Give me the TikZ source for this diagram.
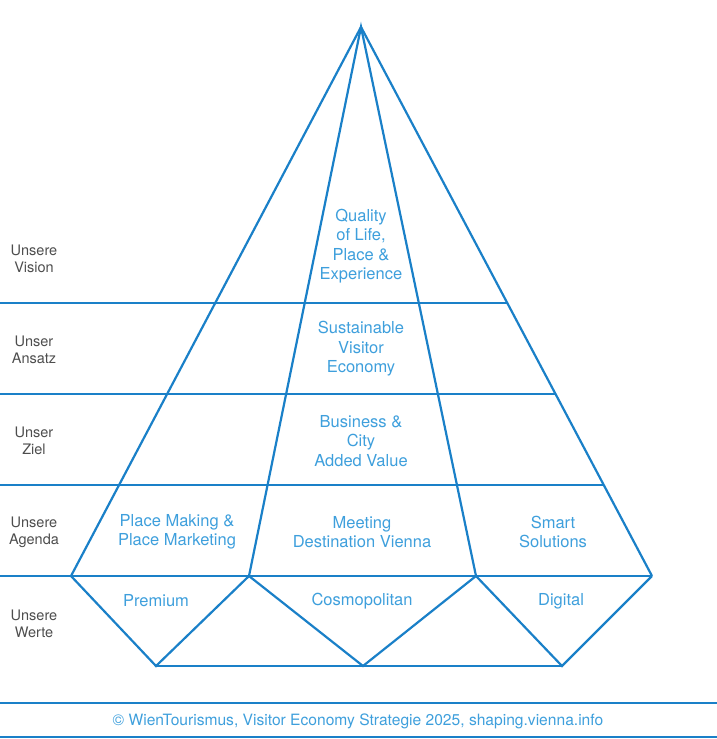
\documentclass[tikz,border=0pt]{standalone}
\usepackage{fontspec}
\setmainfont{TeX Gyre Heros}
\usetikzlibrary{calc}
\definecolor{wtblue}{HTML}{1A80C8}
\definecolor{wttext}{HTML}{3E9FDC}
\definecolor{wtgray}{HTML}{4D4D4D}
\newcommand{\fieldfont}{\fontsize{16.5}{19.5}\selectfont}
\newcommand{\rowfont}{\fontsize{14.5}{17}\selectfont}
\tikzstyle{edge}=[draw=wtblue, line width=2.2pt, line join=miter]
\tikzstyle{band}=[draw=wtblue, line width=1.6pt]
\tikzstyle{field}=[align=center, text=wttext, font=\fieldfont, inner sep=0]
\tikzstyle{rowlabel}=[align=center, text=wtgray, font=\rowfont, inner sep=0]
\tikzstyle{pyramid}=[x=1pt, y=-1pt,
                     % keep the page at the size of the reference
                     execute at begin picture={\useasboundingbox (0,0) rectangle (717,739);}]
\begin{document}
\begin{tikzpicture}[pyramid]
    \coordinate (apex) at (361, 27);
    \coordinate (L) at (71, 576);
    \coordinate (Lin) at (249, 576);
    \coordinate (Rin) at (476, 576);
    \coordinate (R) at (652, 576);
    \coordinate (B1) at (156, 666);
    \coordinate (B2) at (363, 666);
    \coordinate (B3) at (562, 666);

    % horizontal bands
    \foreach \y in {303, 394, 485} {
        \draw[band] (0, \y) -- ($(apex)!{(\y-27)/549}!(R)$);
    }
    \draw[band] (0, 576) -- (R);

    \draw[edge] (L) -- (apex) -- (R);
    \draw[edge] (Lin) -- (apex) -- (Rin);
    \draw[edge] (L) -- (B1) -- (Lin) -- (B2) -- (Rin) -- (B3) -- (R);
    \draw[edge] (B1) -- (B3);

    \node[field] (vision) at (361, 246) {Quality\\of Life,\\Place \&\\Experience};
    \node[field] (ansatz) at (361, 349) {Sustainable\\Visitor\\Economy};
    \node[field] (ziel) at (361, 441) {Business \&\\City\\Added Value};
    \node[field] (making) at (177, 532) {Place Making \&\\Place Marketing};
    \node[field] (meeting) at (362, 532) {Meeting\\Destination Vienna};
    \node[field] (smart) at (553, 532) {Smart\\Solutions};
    \node[field] (premium) at (156, 601) {Premium};
    \node[field] (cosmo) at (362, 601) {Cosmopolitan};
    \node[field] (digital) at (561, 601) {Digital};

    \node[rowlabel] (rvision) at (34, 259) {Unsere\\Vision};
    \node[rowlabel] (ransatz) at (34, 350) {Unser\\Ansatz};
    \node[rowlabel] (rziel) at (34, 441) {Unser\\Ziel};
    \node[rowlabel] (ragenda) at (34, 532) {Unsere\\Agenda};
    \node[rowlabel] (rwerte) at (34, 624) {Unsere\\Werte};

    % source line
    \draw[band, line width=1.5pt] (0, 703) -- (717, 703);
    \draw[band, line width=1.5pt] (0, 737) -- (717, 737);
    \node[field, font=\fontsize{15.6}{18}\selectfont] (source) at (358, 721)
        {© WienTourismus, Visitor Economy Strategie 2025, shaping.vienna.info};
\end{tikzpicture}
\end{document}
